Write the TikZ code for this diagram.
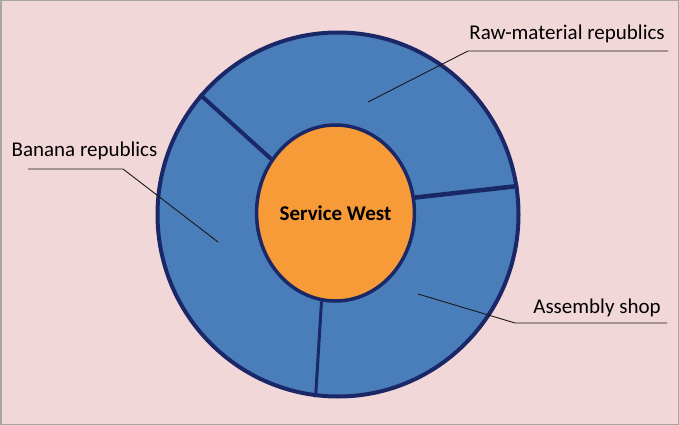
\documentclass[tikz,border=0pt]{standalone}
\usepackage{fontspec}
\setmainfont{Carlito}
\usetikzlibrary{shapes.geometric}
\definecolor{bgpink}{HTML}{F2D7D9}
\definecolor{ringblue}{HTML}{4A7EBB}
\definecolor{navy}{HTML}{1B2868}
\definecolor{coreorange}{HTML}{F79A38}
\tikzstyle{lbl}=[font=\fontsize{21}{25}\selectfont, inner sep=0pt, anchor=base]
\tikzstyle{leader}=[line width=0.9pt, black!90]
\tikzstyle{divider}=[draw=navy, line width=3.5pt]

\begin{document}
\begin{tikzpicture}[x=1pt, y=-1pt]
	\fill[bgpink] (0,0) rectangle (679,425);
	\draw[black!35, line width=1.5pt] (0.75,0.75) rectangle (678.25,424.25);
	\useasboundingbox (0,0) rectangle (679,425);
	\node[ellipse, fill=ringblue, draw=navy, line width=4pt, minimum width=361pt, minimum height=364pt, inner sep=0pt] (ring) at (338,214.5) {};
	\node[ellipse, fill=coreorange, draw=navy, line width=3.5pt, minimum width=151pt, minimum height=176pt, inner sep=0pt, font=\fontsize{21}{25}\selectfont\bfseries] (core) at (335.5,213) {Service West};
	\draw[divider, line width=4pt] (core.140) -- (ring.139);
	\draw[divider, line width=4.5pt] (core.11) -- (ring.9.6);
	\draw[divider, line width=3pt] (core.261) -- (ring.263);
	\node[lbl] (raw) at (567,39.3) {Raw-material republics};
	\node[lbl] (banana) at (84.5,156) {Banana republics};
	\node[lbl] (assembly) at (597,313.3) {Assembly shop};
	\coordinate (rawtip) at (368,102);
	\coordinate (bananatip) at (218,242);
	\coordinate (assemblytip) at (418,294);
	\draw[leader] (rawtip) -- (468,51) -- (668,51);
	\draw[leader] (bananatip) -- (123,169) -- (28,169);
	\draw[leader] (assemblytip) -- (515,323) -- (667,323);
\end{tikzpicture}
\end{document}
